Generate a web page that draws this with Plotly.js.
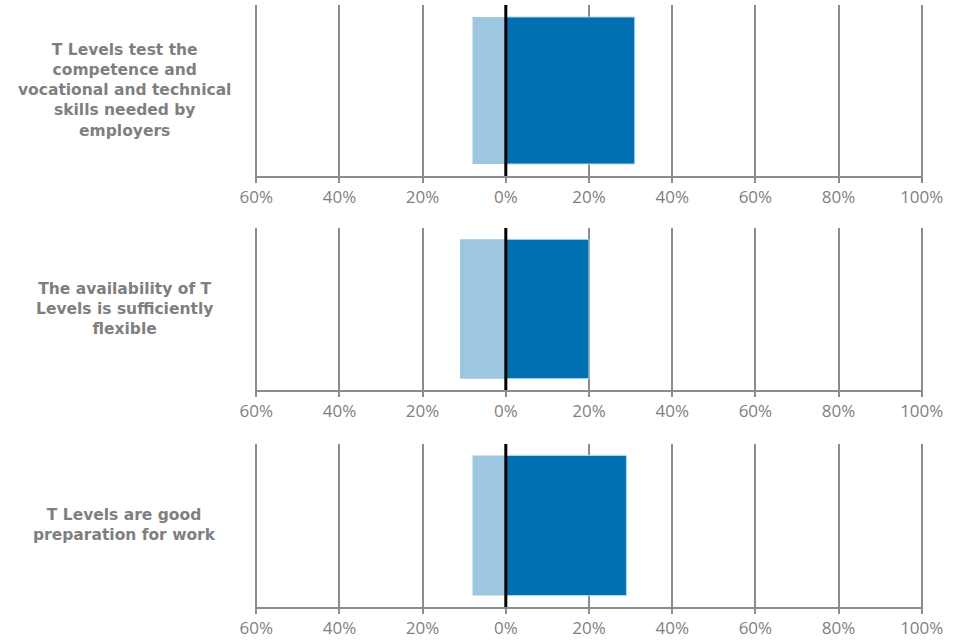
<!DOCTYPE html>
<html>
<head>
<meta charset="utf-8">
<script src="https://cdn.plot.ly/plotly-3.0.1.min.js"></script>
<style>
html,body{margin:0;padding:0;background:#fff;}
#chart{width:960px;height:640px;}
</style>
</head>
<body>
<div id="chart"></div>
<script>
// ---- data ----
const categories = [
  "T Levels test the<br>competence and<br>vocational and technical<br>skills needed by<br>employers",
  "The availability of T<br>Levels is sufficiently<br>flexible",
  "T Levels are good<br>preparation for work"
];
const disagreePct = [8, 11, 8];   // drawn to the left of zero
const agreePct = [31, 20, 29];    // drawn to the right of zero
const tickVals = [-60, -40, -20, 0, 20, 40, 60, 80, 100];
const tickText = ["60%", "40%", "20%", "0%", "20%", "40%", "60%", "80%", "100%"];

const lightBlue = "#9dc7e0";
const darkBlue = "#0070b0";
const gridGray = "#8c8c8c";
const textGray = "#7f7f7f";

const domains = [[0.716, 1.0], [0.3605, 0.6296], [0.0, 0.2708]];

const traces = [];
const layout = {
  width: 960, height: 640,
  margin: {l: 255, r: 37, t: 5, b: 33},
  paper_bgcolor: "#fff", plot_bgcolor: "#fff",
  barmode: "relative",
  bargap: 0.14,
  showlegend: false,
  font: {family: "Open Sans, sans-serif", color: textGray},
  annotations: [],
  shapes: []
};

categories.forEach((cat, i) => {
  const n = i === 0 ? "" : String(i + 1);
  const xa = "x" + n, ya = "y" + n;
  traces.push({
    type: "bar", orientation: "h",
    x: [-disagreePct[i]], y: [cat],
    xaxis: xa, yaxis: ya,
    marker: {color: lightBlue, line: {width: 0}},
    hoverinfo: "x"
  });
  traces.push({
    type: "bar", orientation: "h",
    x: [agreePct[i]], y: [cat],
    xaxis: xa, yaxis: ya,
    marker: {color: darkBlue, line: {width: 1, color: "#b9d7ea"}},
    hoverinfo: "x"
  });
  layout["xaxis" + n] = {
    anchor: ya,
    domain: [0, 1],
    range: [-60.3, 100.3],
    tickmode: "array",
    tickvals: tickVals,
    ticktext: tickText,
    showgrid: true, gridcolor: gridGray, gridwidth: 2,
    zeroline: false,
    showline: true, linecolor: gridGray, linewidth: 2,
    ticks: "outside", ticklen: 5, tickwidth: 2, tickcolor: gridGray,
    tickfont: {family: "Open Sans, sans-serif", size: 17, color: textGray},
    fixedrange: true
  };
  layout["yaxis" + n] = {
    anchor: xa,
    domain: domains[i],
    type: "category",
    range: [-0.5, 0.5],
    showticklabels: false,
    showgrid: false, zeroline: false, showline: false,
    ticks: "",
    fixedrange: true
  };
  layout.annotations.push({
    text: cat,
    xref: "paper", x: -0.196, xanchor: "center",
    yref: ya + " domain", y: 0.5, yanchor: "middle",
    showarrow: false,
    align: "center",
    font: {family: "DejaVu Sans, sans-serif", size: 15.5, color: textGray, weight: "bold"}
  });
  layout.shapes.push({
    type: "line", xref: xa, yref: ya + " domain",
    x0: 0, x1: 0, y0: 0, y1: 1,
    line: {color: "#000", width: 3},
    layer: "above"
  });
});

Plotly.newPlot("chart", traces, layout, {displayModeBar: false, staticPlot: true});
</script>
</body>
</html>
